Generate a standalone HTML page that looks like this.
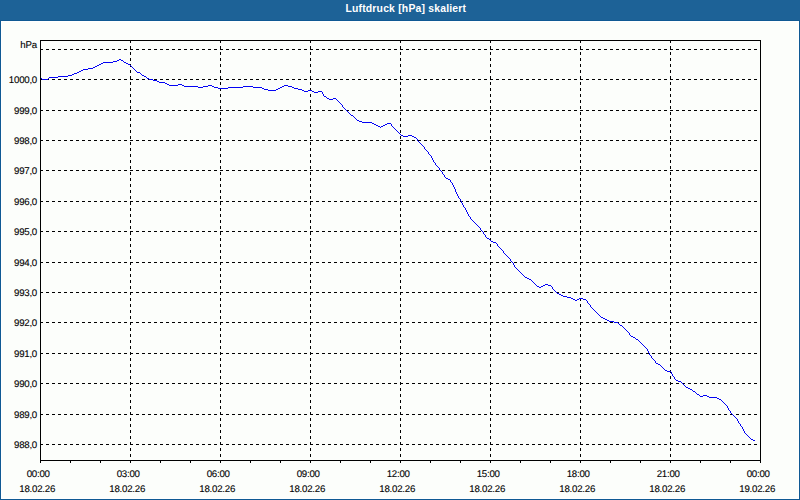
<!DOCTYPE html>
<html lang="de"><head><meta charset="utf-8"><title>Luftdruck [hPa] skaliert</title>
<style>
html,body{margin:0;padding:0;background:#fcfefb;}
body{width:800px;height:500px;overflow:hidden;position:relative;font-family:"Liberation Sans",sans-serif;}
#frame{position:absolute;left:0;top:20px;width:798px;height:478px;border:1px solid #0f5993;background:#fcfefb;box-shadow:inset 0 0 0 1px #fff;}
#title{position:absolute;left:0;top:0;width:800px;height:20px;background:#1d6297;border-bottom:0;color:#fff;font-weight:bold;font-size:10.4px;line-height:17px;letter-spacing:0.2px;text-align:center;}
#title span{position:absolute;left:345.4px;top:0;white-space:nowrap;}
svg{position:absolute;left:0;top:0;}
text{font-family:"Liberation Sans",sans-serif;font-size:9.7px;fill:#000;stroke:#000;stroke-width:0.1px;letter-spacing:-0.25px;text-rendering:geometricPrecision;}
</style></head><body>
<div id="frame"></div>
<div id="title"><span>Luftdruck [hPa] skaliert</span></div>
<svg width="800" height="500" viewBox="0 0 800 500" shape-rendering="crispEdges">

<g stroke="#000" stroke-width="1" stroke-dasharray="3 3" fill="none">
<line x1="40" y1="49.5" x2="760" y2="49.5"/>
<line x1="40" y1="79.5" x2="760" y2="79.5"/>
<line x1="40" y1="110.5" x2="760" y2="110.5"/>
<line x1="40" y1="140.5" x2="760" y2="140.5"/>
<line x1="40" y1="170.5" x2="760" y2="170.5"/>
<line x1="40" y1="201.5" x2="760" y2="201.5"/>
<line x1="40" y1="231.5" x2="760" y2="231.5"/>
<line x1="40" y1="262.5" x2="760" y2="262.5"/>
<line x1="40" y1="292.5" x2="760" y2="292.5"/>
<line x1="40" y1="322.5" x2="760" y2="322.5"/>
<line x1="40" y1="353.5" x2="760" y2="353.5"/>
<line x1="40" y1="383.5" x2="760" y2="383.5"/>
<line x1="40" y1="414.5" x2="760" y2="414.5"/>
<line x1="40" y1="444.5" x2="760" y2="444.5"/>
<line x1="130.5" y1="40" x2="130.5" y2="460"/>
<line x1="220.5" y1="40" x2="220.5" y2="460"/>
<line x1="310.5" y1="40" x2="310.5" y2="460"/>
<line x1="400.5" y1="40" x2="400.5" y2="460"/>
<line x1="490.5" y1="40" x2="490.5" y2="460"/>
<line x1="580.5" y1="40" x2="580.5" y2="460"/>
<line x1="670.5" y1="40" x2="670.5" y2="460"/>
</g>
<rect x="40.5" y="40.5" width="720" height="420" fill="none" stroke="#000" stroke-width="1"/>
<g stroke="#000" stroke-width="1">
<line x1="40.5" y1="460" x2="40.5" y2="463"/>
<line x1="70.5" y1="460" x2="70.5" y2="463"/>
<line x1="100.5" y1="460" x2="100.5" y2="463"/>
<line x1="130.5" y1="460" x2="130.5" y2="463"/>
<line x1="160.5" y1="460" x2="160.5" y2="463"/>
<line x1="190.5" y1="460" x2="190.5" y2="463"/>
<line x1="220.5" y1="460" x2="220.5" y2="463"/>
<line x1="250.5" y1="460" x2="250.5" y2="463"/>
<line x1="280.5" y1="460" x2="280.5" y2="463"/>
<line x1="310.5" y1="460" x2="310.5" y2="463"/>
<line x1="340.5" y1="460" x2="340.5" y2="463"/>
<line x1="370.5" y1="460" x2="370.5" y2="463"/>
<line x1="400.5" y1="460" x2="400.5" y2="463"/>
<line x1="430.5" y1="460" x2="430.5" y2="463"/>
<line x1="460.5" y1="460" x2="460.5" y2="463"/>
<line x1="490.5" y1="460" x2="490.5" y2="463"/>
<line x1="520.5" y1="460" x2="520.5" y2="463"/>
<line x1="550.5" y1="460" x2="550.5" y2="463"/>
<line x1="580.5" y1="460" x2="580.5" y2="463"/>
<line x1="610.5" y1="460" x2="610.5" y2="463"/>
<line x1="640.5" y1="460" x2="640.5" y2="463"/>
<line x1="670.5" y1="460" x2="670.5" y2="463"/>
<line x1="700.5" y1="460" x2="700.5" y2="463"/>
<line x1="730.5" y1="460" x2="730.5" y2="463"/>
<line x1="760.5" y1="460" x2="760.5" y2="463"/>
</g>
<path d="M119,59h2v1h-2zM117,60h2v1h-2zM121,60h2v1h-2zM113,61h4v1h-4zM123,61h1v1h-1zM103,62h10v1h-10zM124,62h2v1h-2zM101,63h2v1h-2zM126,63h2v1h-2zM99,64h2v1h-2zM128,64h2v1h-2zM97,65h2v1h-2zM130,65h1v1h-1zM95,66h2v1h-2zM131,66h1v1h-1zM93,67h2v1h-2zM132,67h1v1h-1zM88,68h5v1h-5zM133,68h1v1h-1zM83,69h5v1h-5zM134,69h1v1h-1zM81,70h2v1h-2zM135,70h1v1h-1zM79,71h2v1h-2zM136,71h1v1h-1zM77,72h2v1h-2zM137,72h3v1h-3zM74,73h3v1h-3zM140,73h1v1h-1zM72,74h2v1h-2zM141,74h1v1h-1zM68,75h4v1h-4zM142,75h2v1h-2zM58,76h10v1h-10zM144,76h2v1h-2zM49,77h9v1h-9zM146,77h1v1h-1zM41,78h1v1h-1zM48,78h1v1h-1zM147,78h2v1h-2zM42,79h6v1h-6zM149,79h4v1h-4zM153,80h4v1h-4zM157,81h2v1h-2zM159,82h6v1h-6zM165,83h2v1h-2zM167,84h2v1h-2zM178,84h4v1h-4zM169,85h9v1h-9zM182,85h2v1h-2zM208,85h4v1h-4zM284,85h4v1h-4zM184,86h14v1h-14zM203,86h5v1h-5zM212,86h2v1h-2zM243,86h10v1h-10zM282,86h2v1h-2zM288,86h4v1h-4zM198,87h5v1h-5zM214,87h4v1h-4zM228,87h15v1h-15zM253,87h9v1h-9zM280,87h2v1h-2zM292,87h2v1h-2zM218,88h10v1h-10zM262,88h2v1h-2zM278,88h2v1h-2zM294,88h4v1h-4zM264,89h4v1h-4zM276,89h2v1h-2zM298,89h4v1h-4zM268,90h8v1h-8zM302,90h2v1h-2zM308,90h4v1h-4zM304,91h4v1h-4zM312,91h2v1h-2zM318,91h4v1h-4zM314,92h4v1h-4zM322,92h1v1h-1zM322,93h1v1h-1zM323,94h1v1h-1zM323,95h1v1h-1zM324,96h2v1h-2zM326,97h1v1h-1zM327,98h2v1h-2zM333,98h3v1h-3zM329,99h4v1h-4zM336,99h1v1h-1zM337,100h1v1h-1zM338,101h1v1h-1zM339,102h1v1h-1zM340,103h1v1h-1zM341,104h1v1h-1zM342,105h1v1h-1zM342,106h1v1h-1zM343,107h1v1h-1zM344,108h1v1h-1zM345,109h1v1h-1zM346,110h1v1h-1zM347,111h1v1h-1zM348,112h1v1h-1zM349,113h1v1h-1zM350,114h1v1h-1zM351,115h2v1h-2zM353,116h1v1h-1zM354,117h1v1h-1zM355,118h1v1h-1zM356,119h1v1h-1zM357,120h2v1h-2zM359,121h3v1h-3zM362,122h10v1h-10zM372,123h2v1h-2zM387,123h4v1h-4zM374,124h2v1h-2zM385,124h2v1h-2zM391,124h1v1h-1zM376,125h2v1h-2zM383,125h2v1h-2zM391,125h1v1h-1zM378,126h2v1h-2zM381,126h2v1h-2zM392,126h1v1h-1zM380,127h1v1h-1zM393,127h1v1h-1zM394,128h1v1h-1zM395,129h1v1h-1zM396,130h1v1h-1zM397,131h1v1h-1zM398,132h1v1h-1zM399,133h1v1h-1zM400,134h1v1h-1zM401,135h2v1h-2zM408,135h4v1h-4zM403,136h5v1h-5zM412,136h2v1h-2zM414,137h2v1h-2zM416,138h1v1h-1zM417,139h1v1h-1zM417,140h1v1h-1zM418,141h1v1h-1zM419,142h1v1h-1zM420,143h1v1h-1zM421,144h1v1h-1zM422,145h1v1h-1zM423,146h1v1h-1zM424,147h1v1h-1zM424,148h1v1h-1zM425,149h1v1h-1zM426,150h1v1h-1zM427,151h1v1h-1zM428,152h1v1h-1zM428,153h1v1h-1zM429,154h1v1h-1zM430,155h1v1h-1zM431,156h1v1h-1zM431,157h1v1h-1zM432,158h1v1h-1zM432,159h1v1h-1zM433,160h1v1h-1zM433,161h1v1h-1zM434,162h1v1h-1zM435,163h1v1h-1zM435,164h1v1h-1zM436,165h1v1h-1zM437,166h1v1h-1zM438,167h1v1h-1zM439,168h1v1h-1zM439,169h1v1h-1zM440,170h1v1h-1zM441,171h1v1h-1zM442,172h1v1h-1zM442,173h1v1h-1zM443,174h1v1h-1zM444,175h1v1h-1zM444,176h1v1h-1zM445,177h1v1h-1zM446,178h2v1h-2zM448,179h2v1h-2zM450,180h1v1h-1zM450,181h1v1h-1zM451,182h1v1h-1zM452,183h1v1h-1zM452,184h1v1h-1zM453,185h1v1h-1zM453,186h1v1h-1zM454,187h1v1h-1zM454,188h1v1h-1zM455,189h1v1h-1zM455,190h1v1h-1zM455,191h1v1h-1zM456,192h1v1h-1zM456,193h1v1h-1zM457,194h1v1h-1zM457,195h1v1h-1zM458,196h1v1h-1zM458,197h1v1h-1zM459,198h1v1h-1zM460,199h1v1h-1zM460,200h1v1h-1zM461,201h1v1h-1zM461,202h1v1h-1zM462,203h1v1h-1zM462,204h1v1h-1zM463,205h1v1h-1zM463,206h1v1h-1zM464,207h1v1h-1zM465,208h1v1h-1zM465,209h1v1h-1zM466,210h1v1h-1zM466,211h1v1h-1zM467,212h1v1h-1zM467,213h1v1h-1zM468,214h1v1h-1zM468,215h1v1h-1zM469,216h1v1h-1zM470,217h1v1h-1zM470,218h1v1h-1zM471,219h1v1h-1zM472,220h1v1h-1zM473,221h1v1h-1zM474,222h1v1h-1zM475,223h1v1h-1zM476,224h1v1h-1zM477,225h1v1h-1zM478,226h1v1h-1zM479,227h1v1h-1zM480,228h1v1h-1zM480,229h1v1h-1zM481,230h1v1h-1zM482,231h1v1h-1zM483,232h1v1h-1zM483,233h1v1h-1zM484,234h1v1h-1zM485,235h1v1h-1zM485,236h1v1h-1zM486,237h1v1h-1zM487,238h2v1h-2zM489,239h1v1h-1zM490,240h1v1h-1zM491,241h2v1h-2zM493,242h3v1h-3zM496,243h1v1h-1zM497,244h1v1h-1zM497,245h1v1h-1zM498,246h1v1h-1zM499,247h1v1h-1zM500,248h1v1h-1zM501,249h1v1h-1zM502,250h1v1h-1zM503,251h1v1h-1zM503,252h1v1h-1zM504,253h1v1h-1zM505,254h1v1h-1zM506,255h1v1h-1zM507,256h1v1h-1zM508,257h1v1h-1zM509,258h1v1h-1zM510,259h1v1h-1zM510,260h1v1h-1zM511,261h1v1h-1zM512,262h1v1h-1zM513,263h1v1h-1zM513,264h1v1h-1zM514,265h1v1h-1zM514,266h1v1h-1zM515,267h1v1h-1zM516,268h1v1h-1zM517,269h1v1h-1zM518,270h1v1h-1zM519,271h1v1h-1zM520,272h1v1h-1zM521,273h1v1h-1zM522,274h1v1h-1zM523,275h1v1h-1zM524,276h1v1h-1zM525,277h2v1h-2zM527,278h2v1h-2zM529,279h2v1h-2zM531,280h1v1h-1zM532,281h1v1h-1zM533,282h1v1h-1zM534,283h1v1h-1zM535,284h1v1h-1zM545,284h3v1h-3zM536,285h1v1h-1zM543,285h2v1h-2zM548,285h3v1h-3zM537,286h2v1h-2zM541,286h2v1h-2zM551,286h1v1h-1zM539,287h2v1h-2zM552,287h1v1h-1zM552,288h1v1h-1zM553,289h1v1h-1zM554,290h1v1h-1zM555,291h1v1h-1zM556,292h1v1h-1zM557,293h2v1h-2zM559,294h2v1h-2zM561,295h2v1h-2zM563,296h4v1h-4zM567,297h4v1h-4zM571,298h2v1h-2zM579,298h4v1h-4zM573,299h2v1h-2zM577,299h2v1h-2zM583,299h3v1h-3zM575,300h2v1h-2zM586,300h1v1h-1zM587,301h1v1h-1zM587,302h1v1h-1zM588,303h1v1h-1zM589,304h1v1h-1zM590,305h1v1h-1zM590,306h1v1h-1zM591,307h1v1h-1zM592,308h1v1h-1zM593,309h1v1h-1zM594,310h1v1h-1zM595,311h1v1h-1zM596,312h1v1h-1zM597,313h1v1h-1zM598,314h1v1h-1zM599,315h1v1h-1zM600,316h1v1h-1zM601,317h2v1h-2zM603,318h2v1h-2zM605,319h2v1h-2zM607,320h2v1h-2zM609,321h5v1h-5zM614,322h4v1h-4zM618,323h1v1h-1zM619,324h1v1h-1zM620,325h2v1h-2zM622,326h1v1h-1zM623,327h1v1h-1zM624,328h1v1h-1zM625,329h1v1h-1zM626,330h1v1h-1zM627,331h1v1h-1zM628,332h1v1h-1zM629,333h1v1h-1zM629,334h1v1h-1zM630,335h1v1h-1zM631,336h2v1h-2zM633,337h2v1h-2zM635,338h1v1h-1zM636,339h2v1h-2zM638,340h1v1h-1zM639,341h1v1h-1zM640,342h1v1h-1zM641,343h1v1h-1zM642,344h1v1h-1zM643,345h1v1h-1zM644,346h1v1h-1zM645,347h1v1h-1zM646,348h1v1h-1zM647,349h1v1h-1zM647,350h1v1h-1zM648,351h1v1h-1zM648,352h1v1h-1zM649,353h1v1h-1zM649,354h1v1h-1zM650,355h1v1h-1zM651,356h1v1h-1zM651,357h1v1h-1zM652,358h1v1h-1zM653,359h1v1h-1zM654,360h1v1h-1zM655,361h1v1h-1zM655,362h1v1h-1zM656,363h2v1h-2zM658,364h2v1h-2zM660,365h1v1h-1zM661,366h1v1h-1zM662,367h1v1h-1zM663,368h1v1h-1zM664,369h1v1h-1zM665,370h2v1h-2zM667,371h4v1h-4zM671,372h1v1h-1zM671,373h1v1h-1zM672,374h1v1h-1zM672,375h1v1h-1zM673,376h1v1h-1zM674,377h1v1h-1zM674,378h1v1h-1zM675,379h1v1h-1zM676,380h2v1h-2zM678,381h3v1h-3zM681,382h1v1h-1zM682,383h1v1h-1zM683,384h1v1h-1zM684,385h1v1h-1zM685,386h1v1h-1zM686,387h2v1h-2zM688,388h2v1h-2zM690,389h2v1h-2zM692,390h1v1h-1zM693,391h2v1h-2zM695,392h1v1h-1zM696,393h1v1h-1zM697,394h2v1h-2zM699,395h1v1h-1zM703,395h4v1h-4zM700,396h3v1h-3zM707,396h2v1h-2zM709,397h8v1h-8zM717,398h2v1h-2zM719,399h2v1h-2zM721,400h1v1h-1zM722,401h1v1h-1zM723,402h1v1h-1zM724,403h1v1h-1zM725,404h1v1h-1zM726,405h1v1h-1zM727,406h1v1h-1zM727,407h1v1h-1zM728,408h1v1h-1zM728,409h1v1h-1zM729,410h1v1h-1zM730,411h1v1h-1zM730,412h1v1h-1zM731,413h1v1h-1zM732,414h1v1h-1zM733,415h1v1h-1zM734,416h1v1h-1zM735,417h1v1h-1zM736,418h1v1h-1zM737,419h1v1h-1zM737,420h1v1h-1zM738,421h1v1h-1zM738,422h1v1h-1zM739,423h1v1h-1zM740,424h1v1h-1zM740,425h1v1h-1zM741,426h1v1h-1zM742,427h1v1h-1zM742,428h1v1h-1zM743,429h1v1h-1zM743,430h1v1h-1zM744,431h1v1h-1zM744,432h1v1h-1zM745,433h1v1h-1zM746,434h1v1h-1zM747,435h1v1h-1zM748,436h1v1h-1zM749,437h1v1h-1zM750,438h1v1h-1zM751,439h2v1h-2zM753,440h2v1h-2z" fill="#0404f4" stroke="none"/>
<g text-anchor="end" transform="scale(1,1.0)">
<text x="36.8" y="48.00">hPa</text>
<text x="37.0" y="83.00">1000,0</text>
<text x="37.0" y="114.00">999,0</text>
<text x="37.0" y="144.00">998,0</text>
<text x="37.0" y="174.00">997,0</text>
<text x="37.0" y="205.00">996,0</text>
<text x="37.0" y="235.00">995,0</text>
<text x="37.0" y="266.00">994,0</text>
<text x="37.0" y="296.00">993,0</text>
<text x="37.0" y="326.00">992,0</text>
<text x="37.0" y="357.00">991,0</text>
<text x="37.0" y="387.00">990,0</text>
<text x="37.0" y="418.00">989,0</text>
<text x="37.0" y="448.00">988,0</text>
</g><g text-anchor="middle" transform="scale(1,1.0)">
<text x="38.2" y="477.00">00:00</text>
<text x="37.2" y="492.00">18.02.26</text>
<text x="128.2" y="477.00">03:00</text>
<text x="127.2" y="492.00">18.02.26</text>
<text x="218.2" y="477.00">06:00</text>
<text x="217.2" y="492.00">18.02.26</text>
<text x="308.2" y="477.00">09:00</text>
<text x="307.2" y="492.00">18.02.26</text>
<text x="398.2" y="477.00">12:00</text>
<text x="397.2" y="492.00">18.02.26</text>
<text x="488.2" y="477.00">15:00</text>
<text x="487.2" y="492.00">18.02.26</text>
<text x="578.2" y="477.00">18:00</text>
<text x="577.2" y="492.00">18.02.26</text>
<text x="668.2" y="477.00">21:00</text>
<text x="667.2" y="492.00">18.02.26</text>
<text x="758.2" y="477.00">00:00</text>
<text x="757.2" y="492.00">19.02.26</text>
</g></svg></body></html>
